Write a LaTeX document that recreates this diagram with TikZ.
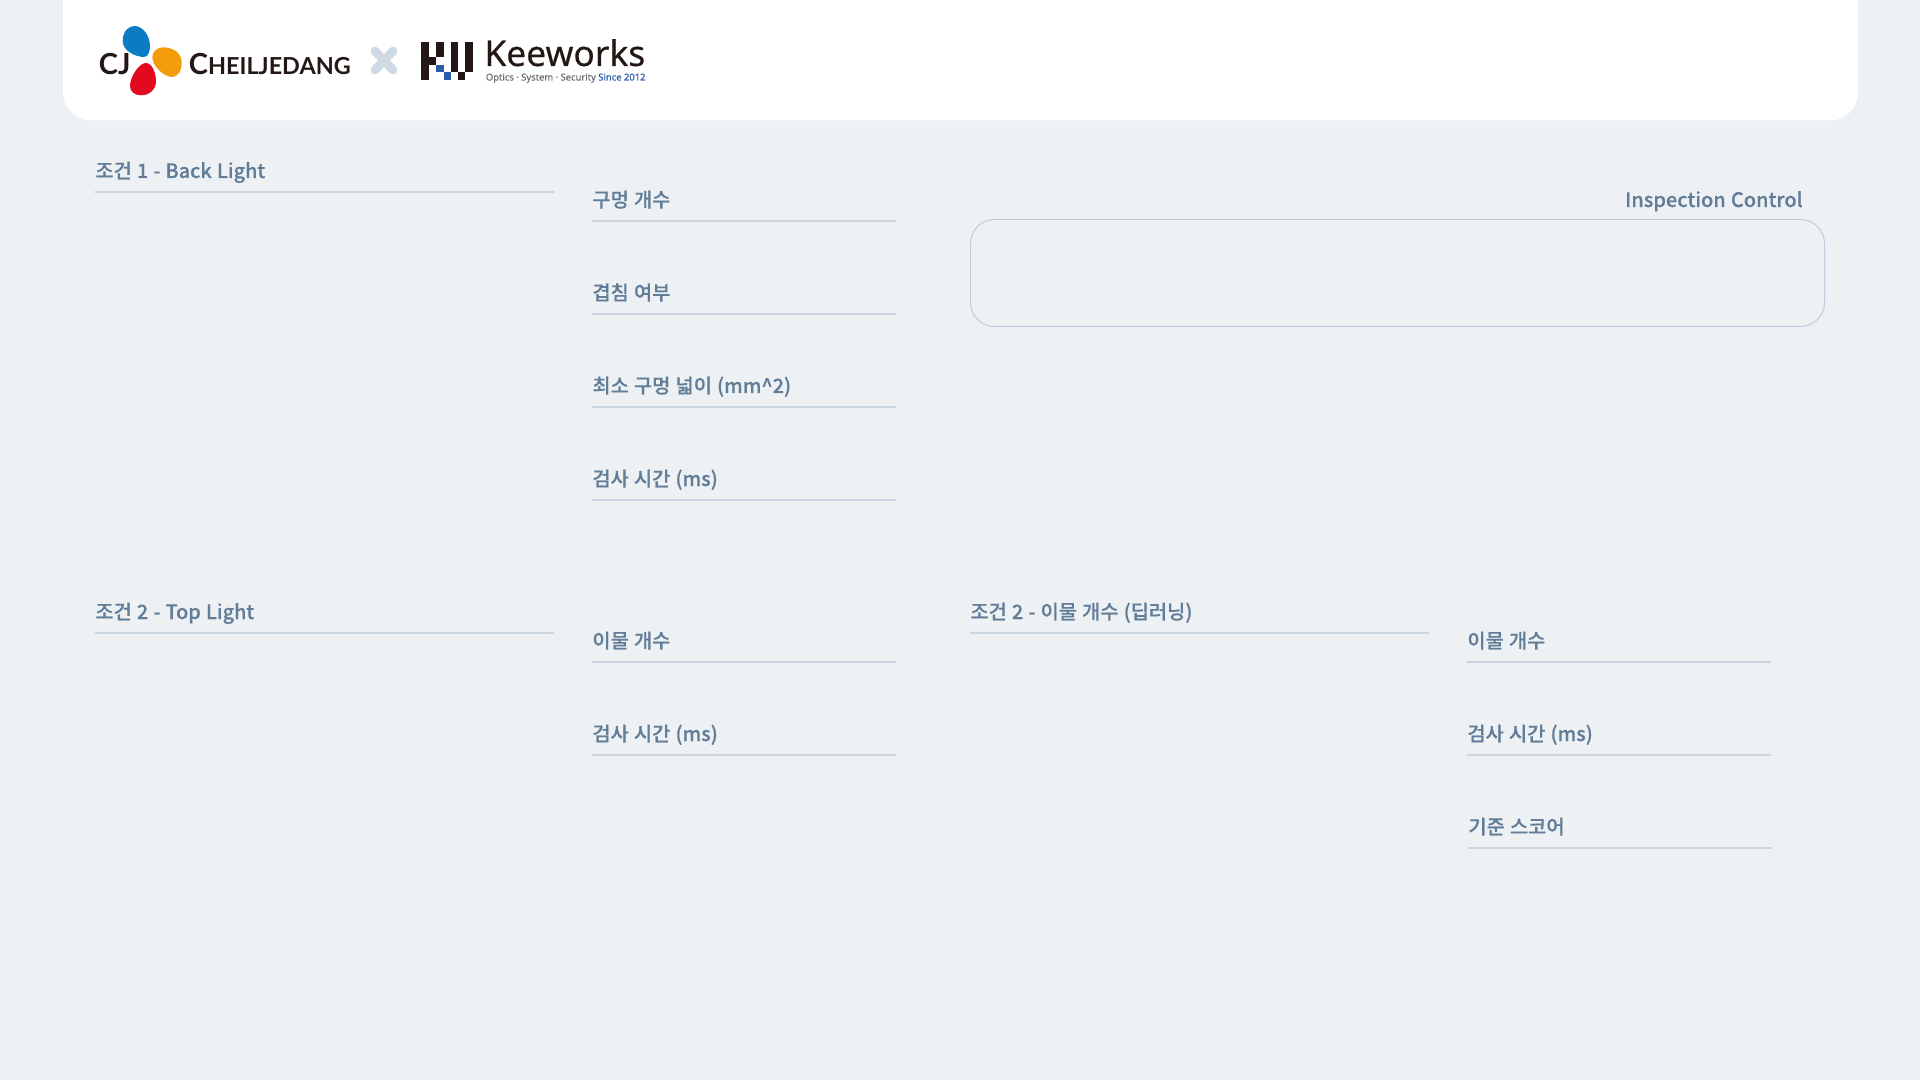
\documentclass[tikz,border=0pt]{standalone}
\usepackage{fontspec}
\setmainfont{Noto Sans CJK KR}[BoldFont={* Medium},BoldFeatures={FakeBold=0.3},WordSpace=1.15]
\newfontfamily\lgfont{Lato}
\newfontfamily\kwfont{Noto Sans}[FakeBold=0.35]
\newfontfamily\kwsubfont{Noto Sans}[FakeBold=0.2]
\definecolor{pagebg}{HTML}{EDF1F4}
\definecolor{labelc}{HTML}{627D98}
\definecolor{rulec}{HTML}{C9D5E1}
\definecolor{boxc}{HTML}{BCCCDC}
\definecolor{xc}{HTML}{D0DAE4}
\definecolor{inkc}{HTML}{231815}
\definecolor{cjb}{HTML}{0A7CC4}
\definecolor{cjo}{HTML}{F39C0C}
\definecolor{cjr}{HTML}{E10A1E}
\definecolor{kwb}{HTML}{2A5CAA}
\definecolor{kwg}{HTML}{6B7075}
\tikzset{
 lab/.style={anchor=base west,inner sep=0pt,text=labelc,font=\fontsize{9.9pt}{12pt}\selectfont\bfseries},
 rulel/.style={draw=rulec,line width=0.9pt},
 logotext/.style={anchor=base west,inner sep=0pt,text=inkc},
}
\begin{document}
\begin{tikzpicture}[x=0.5pt,y=-0.5pt]
\useasboundingbox (0,0) rectangle (1920,1080);
\fill[pagebg] (0,0) rectangle (1920,1080);
% header panel
\fill[white] (63,-40) [rounded corners=14pt] -- (63,120.5) -- (1858,120.5) [sharp corners] -- (1858,-40) -- cycle;
% labels with rules
\foreach \nm/\x/\xr/\y/\t in {
 a/95/554/192/{조건 1 - Back Light},
 b/592/896/221/{구멍 개수},
 c/592/896/314/{겹침 여부},
 d/592/896/407/{최소 구멍 넓이 (mm\textasciicircum 2)},
 e/592/896/500/{검사 시간 (ms)},
 f/95/554/633/{조건 2 - Top Light},
 g/592/896/662/{이물 개수},
 h/592/896/755/{검사 시간 (ms)},
 i/970/1429/633/{조건 2 - 이물 개수 (딥러닝)},
 j/1467/1771/662/{이물 개수},
 k/1467/1771/755/{검사 시간 (ms)},
 l/1468/1772/848/{기준 스코어}}{
 \node[lab] (\nm) at (\x,\y-14) {\t};
 \draw[rulel] (\x,\y) -- (\xr,\y);
}
% inspection control
\node[lab,anchor=base east,font=\fontsize{9.98pt}{12pt}\selectfont\bfseries] (ic) at (1803,207) {Inspection Control};
\draw[boxc,line width=0.5pt,rounded corners=12pt] (970.5,219.5) rectangle (1824.5,326.5);
% CJ logo blobs
\fill[cjb] (122.7,41) .. controls (122.7,31) and (129,26) .. (134.5,26) .. controls (143,26) and (150,36) .. (150,46) .. controls (150,52) and (148,57) .. (144,57) .. controls (136,57) and (122.7,51) .. (122.7,41) -- cycle;
\fill[cjo] (152.3,57) .. controls (152.3,52) and (157,47.3) .. (163,47.3) .. controls (174,47.3) and (181.7,54) .. (181.7,62) .. controls (181.7,71) and (178,77) .. (172,77) .. controls (164,77) and (152.3,66) .. (152.3,57) -- cycle;
\fill[cjr] (146,63) .. controls (152,63) and (156,73) .. (156,81) .. controls (156,90) and (149,95.3) .. (141,95.3) .. controls (134,95.3) and (130,91) .. (130,86) .. controls (130,77) and (139,63) .. (146,63) -- cycle;
% CJ logo text
\node[logotext,font=\lgfont\bfseries\fontsize{14.5pt}{14pt}\selectfont] (cj) at (98.5,75) {CJ};
\node[logotext,font=\lgfont\bfseries\fontsize{11.7pt}{12pt}\selectfont] (cheil) at (188.5,75) {\fontsize{14.5pt}{14pt}\selectfont C\fontsize{11.7pt}{12pt}\selectfont HEILJEDANG};
% cross
\draw[xc,line width=4.4pt,line cap=round] (375,51) -- (393,70) (393,51) -- (375,70);
% KW logo
\fill[inkc] (421,42) rectangle (428.5,80);
\fill[inkc] (428.5,57) rectangle (436,65);
\fill[inkc] (436,42) rectangle (443.5,57);
\fill[inkc] (450.5,42) rectangle (458,72.5);
\fill[inkc] (465,42) rectangle (472.5,72.5);
\fill[inkc] (458,72.5) rectangle (465,80);
\fill[kwb] (436,65) rectangle (443.5,72.5);
\fill[kwb] (443.5,72.5) rectangle (451,80);
% Keeworks
\node[logotext,font=\kwfont\fontsize{17.7pt}{18pt}\selectfont] (kw) at (484,66) {Keeworks};
\node[logotext,text=kwg,font=\kwsubfont\fontsize{4.7pt}{6pt}\selectfont] (kwsub) at (485.5,80.5) {Optics · System · Security \textcolor{kwb}{Since 2012}};
\end{tikzpicture}
\end{document}
